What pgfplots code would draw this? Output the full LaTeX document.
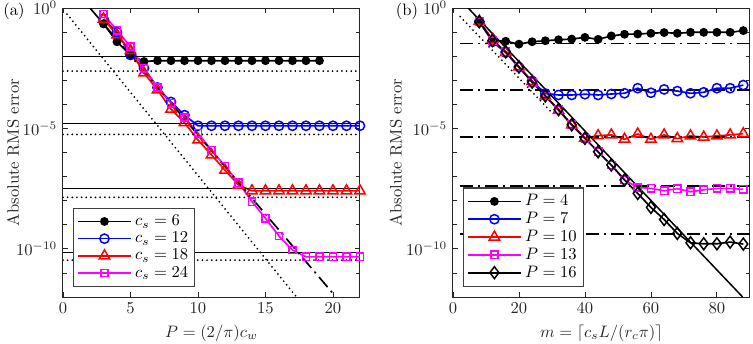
\documentclass[border=0pt]{standalone}
\usepackage{pgfplots}
\pgfplotsset{compat=1.18}

\definecolor{axgray}{gray}{0.15}
\definecolor{mag}{rgb}{1,0,1}
\definecolor{blu}{rgb}{0,0,1}
\definecolor{rd}{rgb}{1,0,0}

\pgfplotsset{
  ser/.style={line width=1pt, mark options={solid, line width=0.9pt}},
  refline/.style={black, line width=0.9pt, forget plot},
  refdot/.style={black, line width=1.2pt, line cap=round,
    dash pattern=on 0pt off 2.8pt, forget plot},
  refdd/.style={black, line width=1pt,
    dash pattern=on 8pt off 3pt on 1.2pt off 3pt, forget plot},
}

\begin{document}
\begin{tikzpicture}
% ---------------- (a) ----------------
\begin{axis}[name=A,
  scale only axis, width=178.9pt, height=174.1pt,
  ymode=log, ymin=1e-12, ymax=1,
  ytick={1,1e-5,1e-10},
  minor ytick={1e-1,1e-2,1e-3,1e-4,1e-6,1e-7,1e-8,1e-9,1e-11},
  tick align=inside, xtick pos=both, ytick pos=both,
  major tick length=3pt, minor tick length=2.5pt,
  axis line style={axgray, line width=0.6pt},
  tick style={axgray, line width=0.5pt},
  tick label style={text=axgray},
  xlabel style={text=axgray},
  ylabel style={text=axgray, at={(axis description cs:-0.168,0.5)}, anchor=center},
  ylabel={Absolute RMS error},
  legend cell align=left,
  legend style={at={(0.034,0.035)}, anchor=south west, draw=black!75,
    line width=0.8pt, inner sep=2pt, row sep=-1.6pt},
  legend image code/.code={\draw[mark repeat=2,mark phase=2,#1]
    plot coordinates {(0pt,0pt) (16pt,0pt) (32pt,0pt)};},
  xmin=0, xmax=22, xtick={0,5,10,15,20},
  xlabel={$P = (2/\pi) c_w$},
]
\addplot[ser, black, mark=*, mark size=2.2pt] coordinates {
  (3,2.19e-1) (4,3.98e-2) (5,1.12e-2) (6,6.0e-3) (7,6.5e-3) (8,6.5e-3)
  (9,6.5e-3) (10,6.5e-3) (11,6.5e-3) (12,6.5e-3) (13,6.5e-3) (14,6.5e-3)
  (15,6.5e-3) (16,6.5e-3) (17,6.5e-3) (18,6.5e-3) (19,6.5e-3)
};
\addlegendentry{$c_s = 6$}
\addplot[ser, blu, mark=o, mark size=2.8pt] coordinates {
  (3,3.55e-1) (4,1.0e-1) (5,1.12e-2) (6,3.16e-3) (7,5.0e-4) (8,1.26e-4)
  (9,3.55e-5) (10,1.29e-5) (11,1.29e-5) (12,1.29e-5) (13,1.29e-5)
  (14,1.29e-5) (15,1.29e-5) (16,1.29e-5) (17,1.29e-5) (18,1.29e-5)
  (19,1.29e-5) (20,1.29e-5) (21,1.29e-5) (22,1.29e-5)
};
\addlegendentry{$c_s = 12$}
\addplot[ser, rd, mark=triangle, mark size=3.6pt] coordinates {
  (3,3.47e-1) (4,7.59e-2) (5,1.70e-2) (6,2.0e-3) (7,3.98e-4) (8,6.31e-5)
  (9,1.74e-5) (10,3.31e-6) (11,7.94e-7) (12,1.86e-7) (13,4.47e-8)
  (14,2.57e-8) (15,2.57e-8) (16,2.57e-8) (17,2.57e-8) (18,2.57e-8)
  (19,2.57e-8) (20,2.57e-8) (21,2.57e-8) (22,2.57e-8)
};
\addlegendentry{$c_s = 18$}
\addplot[ser, mag, mark=square, mark size=2.2pt] coordinates {
  (3,5.62e-1) (4,1.20e-1) (5,2.45e-2) (6,3.16e-3) (7,5.0e-4) (8,1.12e-4)
  (9,2.82e-5) (10,6.31e-6) (11,1.26e-6) (12,2.75e-7) (13,5.62e-8)
  (14,9.12e-9) (15,1.86e-9) (16,3.39e-10) (17,8.91e-11) (18,4.68e-11)
  (19,4.68e-11) (20,4.68e-11) (21,4.68e-11) (22,4.68e-11)
};
\addlegendentry{$c_s = 24$}
% reference levels
\addplot[refline] coordinates {(0,9.55e-3) (22,9.55e-3)};
\addplot[refline] coordinates {(0,1.62e-5) (22,1.62e-5)};
\addplot[refline] coordinates {(0,3.24e-8) (22,3.24e-8)};
\addplot[refline] coordinates {(0,6.92e-11) (22,6.92e-11)};
\addplot[refdot] coordinates {(0,2.40e-3) (22,2.40e-3)};
\addplot[refdot] coordinates {(0,5.62e-6) (22,5.62e-6)};
\addplot[refdot] coordinates {(0,1.38e-8) (22,1.38e-8)};
\addplot[refdot] coordinates {(0,3.39e-11) (22,3.39e-11)};
\addplot[refdd] coordinates {(2.0,1) (20,1.41e-12)};
\addplot[refdot] coordinates {(0.3,5.6e-1) (17.3,1e-12)};
\end{axis}
\node at ([xshift=-29.5pt, yshift=-2.2pt]A.north west) {(a)};
% ---------------- (b) ----------------
\begin{axis}[name=B, at={(234.9pt,0pt)}, anchor=south west,
  scale only axis, width=178.9pt, height=174.1pt,
  ymode=log, ymin=1e-12, ymax=1,
  ytick={1,1e-5,1e-10},
  minor ytick={1e-1,1e-2,1e-3,1e-4,1e-6,1e-7,1e-8,1e-9,1e-11},
  tick align=inside, xtick pos=both, ytick pos=both,
  major tick length=3pt, minor tick length=2.5pt,
  axis line style={axgray, line width=0.6pt},
  tick style={axgray, line width=0.5pt},
  tick label style={text=axgray},
  xlabel style={text=axgray},
  ylabel style={text=axgray, at={(axis description cs:-0.192,0.5)}, anchor=center},
  ylabel={Absolute RMS error},
  legend cell align=left,
  legend style={at={(0.034,0.035)}, anchor=south west, draw=black!75,
    line width=0.8pt, inner sep=2pt, row sep=-1.6pt},
  legend image code/.code={\draw[mark repeat=2,mark phase=2,#1]
    plot coordinates {(0pt,0pt) (16pt,0pt) (32pt,0pt)};},
  xmin=0, xmax=90, xtick={0,20,40,60,80},
  xlabel={$m = \lceil c_s L/(r_c \pi) \rceil$},
]
\addplot[ser, black, mark=*, mark size=2.2pt] coordinates {
  (8,2.69e-1) (12,4.47e-2) (16,4.17e-2) (20,3.16e-2) (24,3.98e-2)
  (28,4.37e-2) (32,4.79e-2) (36,5.13e-2) (40,6.03e-2) (44,5.01e-2)
  (48,6.92e-2) (52,8.13e-2) (56,8.32e-2) (60,8.91e-2) (64,9.55e-2)
  (68,8.91e-2) (72,9.77e-2) (76,9.77e-2) (80,9.77e-2) (84,9.77e-2)
  (88,1.15e-1)
};
\addlegendentry{$P = 4$}
\addplot[ser, blu, mark=o, mark size=2.8pt] coordinates {
  (8,2.69e-1) (12,3.98e-2) (16,1.41e-2) (20,3.55e-3) (24,9.33e-4)
  (28,2.82e-4) (32,2.45e-4) (36,2.45e-4) (40,2.63e-4) (44,2.45e-4)
  (48,2.69e-4) (52,2.88e-4) (56,4.68e-4) (60,3.02e-4) (64,4.17e-4)
  (68,3.55e-4) (72,2.88e-4) (76,3.16e-4) (80,4.68e-4) (84,4.68e-4)
  (88,6.31e-4)
};
\addlegendentry{$P = 7$}
\addplot[ser, rd, mark=triangle, mark size=3.6pt] coordinates {
  (8,2.82e-1) (12,5.01e-2) (16,1.41e-2) (20,3.55e-3) (24,8.91e-4)
  (28,2.24e-4) (32,5.62e-5) (36,1.41e-5) (40,3.98e-6) (44,5.01e-6)
  (48,5.37e-6) (52,3.55e-6) (56,5.89e-6) (60,3.55e-6) (64,5.37e-6)
  (68,3.80e-6) (72,4.90e-6) (76,4.37e-6) (80,4.90e-6) (84,5.37e-6)
  (88,6.03e-6)
};
\addlegendentry{$P = 10$}
\addplot[ser, mag, mark=square, mark size=2.2pt] coordinates {
  (8,2.69e-1) (12,4.47e-2) (16,1.51e-2) (20,3.55e-3) (24,8.32e-4)
  (28,2.24e-4) (32,6.03e-5) (36,1.41e-5) (40,3.89e-6) (44,1.07e-6)
  (48,3.02e-7) (52,7.24e-8) (56,3.55e-8) (60,3.24e-8) (64,2.57e-8)
  (68,3.16e-8) (72,2.34e-8) (76,2.82e-8) (80,3.24e-8) (84,3.24e-8)
  (88,2.95e-8)
};
\addlegendentry{$P = 13$}
\addplot[ser, black, mark=diamond, mark size=3.6pt] coordinates {
  (8,2.69e-1) (12,4.47e-2) (16,1.51e-2) (20,3.55e-3) (24,8.32e-4)
  (28,2.24e-4) (32,6.03e-5) (36,1.41e-5) (40,3.89e-6) (44,1.07e-6)
  (48,3.02e-7) (52,7.24e-8) (56,2.0e-8) (60,5.25e-9) (64,1.66e-9)
  (68,4.37e-10) (72,1.78e-10) (76,1.62e-10) (80,1.62e-10) (84,1.91e-10)
  (88,1.58e-10)
};
\addlegendentry{$P = 16$}
% reference levels
\addplot[refdd] coordinates {(2,3.39e-2) (90,3.39e-2)};
\addplot[refdd] coordinates {(2,3.89e-4) (90,3.89e-4)};
\addplot[refdd] coordinates {(2,4.27e-6) (90,4.27e-6)};
\addplot[refdd] coordinates {(2,4.17e-8) (90,4.17e-8)};
\addplot[refdd] coordinates {(2,4.07e-10) (90,4.07e-10)};
\addplot[refline] coordinates {(4.6,1) (87.8,1e-12)};
\addplot[refdot] coordinates {(2.2,4.4e-1) (30,4.5e-5)};
\end{axis}
\node at ([xshift=-27.7pt, yshift=-2.2pt]B.north west) {(b)};
\pgfresetboundingbox
\path[use as bounding box] (-37.95pt,-27.71pt) rectangle (415.66pt,178.92pt);
\end{tikzpicture}
\end{document}
